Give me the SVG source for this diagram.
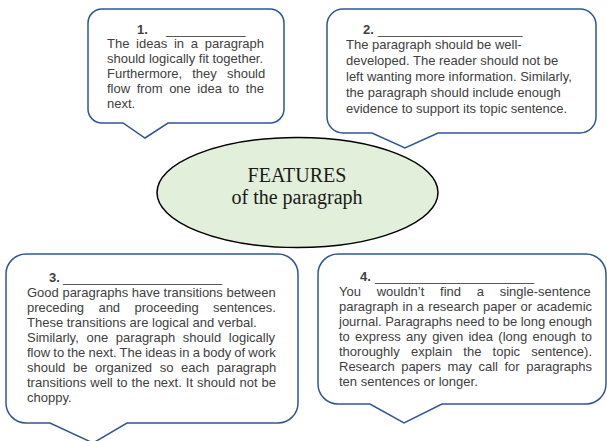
<svg xmlns="http://www.w3.org/2000/svg" width="607" height="441" viewBox="0 0 607 441">
<style>
.box{fill:#fff;stroke:#2F5597;stroke-width:1.5;stroke-linejoin:miter}
.t{font-family:"Liberation Sans",Arial,sans-serif;font-size:13px;fill:#404040}
.h{font-family:"Liberation Sans",Arial,sans-serif;font-size:13px;fill:#404040;font-weight:bold}
.ell{fill:#E2EFDA;stroke:#000;stroke-width:1.5}
.et{font-family:"Liberation Serif","Times New Roman",serif;font-size:20px;fill:#1a1a1a;text-anchor:middle}
</style>
<rect width="607" height="441" fill="#fff"/>

<g id="callout1">
<path class="box" d="M102 9 H270 A14 14 0 0 1 284 23 V109 A14 14 0 0 1 270 123 H168 L145 138 L123 123 H102 A14 14 0 0 1 88 109 V23 A14 14 0 0 1 102 9 Z"/>
<text class="h" x="137" y="34">1.</text>
<text class="t" x="166" y="34">___________</text>
<text class="t" x="107" y="48" word-spacing="3.1">The ideas in a paragraph</text>
<text class="t" x="107" y="63">should logically fit together.</text>
<text class="t" x="107" y="78" word-spacing="6.5">Furthermore, they should</text>
<text class="t" x="107" y="93" word-spacing="2.9">flow from one idea to the</text>
<text class="t" x="107" y="108">next.</text>
</g>

<g id="callout2">
<path class="box" d="M343 9 H580 A16 16 0 0 1 596 25 V117 A16 16 0 0 1 580 133 H438 L405 148 L372 133 H343 A16 16 0 0 1 327 117 V25 A16 16 0 0 1 343 9 Z"/>
<text class="h" x="363" y="34">2.</text>
<text class="t" x="378" y="34">____________________</text>
<text class="t" x="346" y="49">The paragraph should be well-</text>
<text class="t" x="346" y="65">developed. The reader should not be</text>
<text class="t" x="346" y="81">left wanting more information. Similarly,</text>
<text class="t" x="346" y="97">the paragraph should include enough</text>
<text class="t" x="346" y="113">evidence to support its topic sentence.</text>
</g>

<g id="center">
<ellipse class="ell" cx="297.5" cy="192.5" rx="140.5" ry="55"/>
<text class="et" x="297" y="182">FEATURES</text>
<text class="et" x="297" y="204">of the paragraph</text>
</g>

<g id="callout3">
<path class="box" d="M26 254 H278 A20 20 0 0 1 298 274 V403 A20 20 0 0 1 278 423 H127 L93 443 L50 423 H26 A20 20 0 0 1 6 403 V274 A20 20 0 0 1 26 254 Z"/>
<text class="h" x="49" y="282">3.</text>
<text class="t" x="63" y="282">______________________</text>
<text class="t" x="27" y="297">Good paragraphs have transitions between</text>
<text class="t" x="27" y="312" word-spacing="10.7">preceding and proceeding sentences.</text>
<text class="t" x="27" y="327">These transitions are logical and verbal.</text>
<text class="t" x="27" y="342" word-spacing="4.1">Similarly, one paragraph should logically</text>
<text class="t" x="27" y="357" word-spacing="-0.46">flow to the next. The ideas in a body of work</text>
<text class="t" x="27" y="372" word-spacing="4">should be organized so each paragraph</text>
<text class="t" x="27" y="387" word-spacing="0.41">transitions well to the next. It should not be</text>
<text class="t" x="27" y="402">choppy.</text>
</g>

<g id="callout4">
<path class="box" d="M338 254 H586 A20 20 0 0 1 606 274 V384 A20 20 0 0 1 586 404 H442 L404 423 L370 404 H338 A20 20 0 0 1 318 384 V274 A20 20 0 0 1 338 254 Z"/>
<text class="h" x="360" y="281">4.</text>
<text class="t" x="375" y="281">______________________</text>
<text class="t" x="339" y="296" word-spacing="12.1">You wouldn’t find a single-sentence</text>
<text class="t" x="339" y="311" word-spacing="0.62">paragraph in a research paper or academic</text>
<text class="t" x="339" y="326" word-spacing="-0.1">journal. Paragraphs need to be long enough</text>
<text class="t" x="339" y="341" word-spacing="1.66">to express any given idea (long enough to</text>
<text class="t" x="339" y="356" word-spacing="7.6">thoroughly explain the topic sentence).</text>
<text class="t" x="339" y="371" word-spacing="2.9">Research papers may call for paragraphs</text>
<text class="t" x="339" y="386">ten sentences or longer.</text>
</g>
</svg>
